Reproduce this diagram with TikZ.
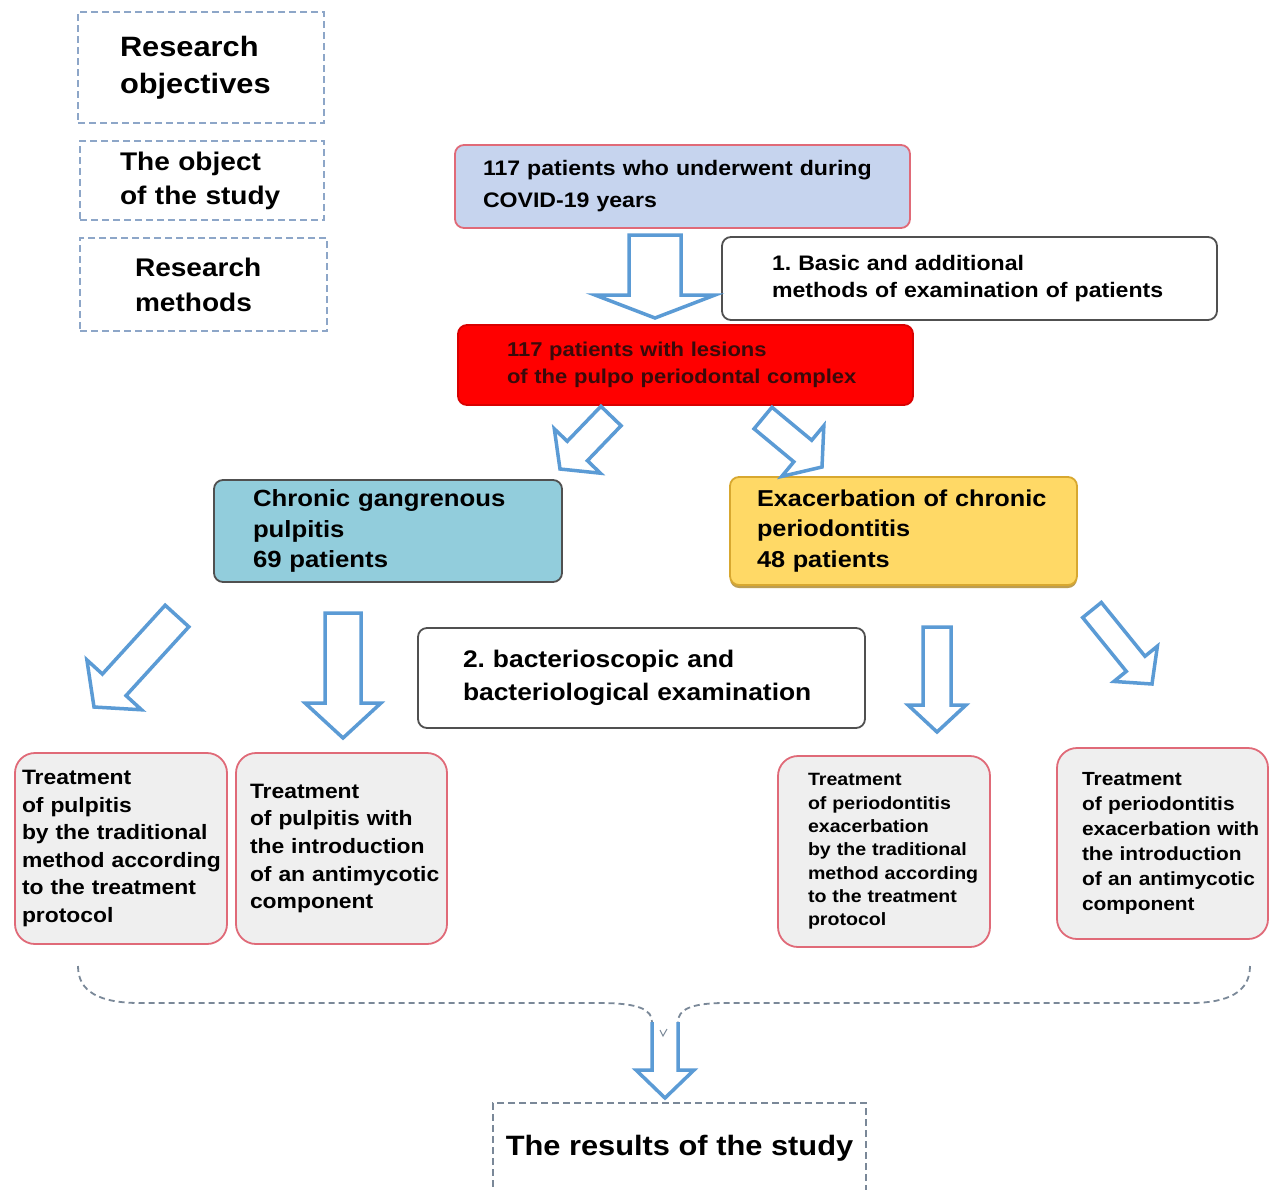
\documentclass[tikz,border=0pt]{standalone}
\usepackage{fontspec}
\setmainfont{Liberation Sans}[FakeStretch=1.1]
\usetikzlibrary{calc, shadows}

\definecolor{arrowblue}{HTML}{5B9BD5}
\definecolor{patblue}{HTML}{C6D4EE}
\definecolor{pinkred}{HTML}{E06A78}
\definecolor{aqua}{HTML}{92CDDC}
\definecolor{gold}{HTML}{FFD966}
\definecolor{goldedge}{HTML}{D8A830}
\definecolor{boxgray}{HTML}{EFEFEF}
\definecolor{edgegray}{HTML}{505050}
\definecolor{dashblue}{HTML}{8DA6C8}
\definecolor{dashgray}{HTML}{7A8898}
\definecolor{darkred}{HTML}{3A0A0A}

\newcommand{\boxfont}[2]{\fontsize{#1}{#2}\selectfont\bfseries\frenchspacing}

% hollow block arrow: tail, tip, shaft half width, head half width, head length
\newcommand{\hollowarrow}[5]{%
  \coordinate (ha-t) at (#1);
  \coordinate (ha-p) at (#2);
  \coordinate (ha-h) at ($(ha-p)!#5!(ha-t)$);
  \draw[blockarrow] ($(ha-t)!#3!90:(ha-p)$) -- ($(ha-h)!#3!-90:(ha-t)$)
    -- ($(ha-h)!#4!-90:(ha-t)$) -- (ha-p) -- ($(ha-h)!#4!90:(ha-t)$)
    -- ($(ha-h)!#3!90:(ha-t)$) -- ($(ha-t)!#3!-90:(ha-p)$) -- cycle;
}

\begin{document}
\begin{tikzpicture}[x=1pt, y=-1pt,
    box/.style={rounded corners=9pt, line width=1.8pt, align=left, inner ysep=0pt},
    dashbox/.style={draw=dashblue, dash pattern=on 7pt off 4pt, line width=1.8pt, align=left, inner ysep=0pt},
    treatbox/.style={box, draw=pinkred, fill=boxgray, rounded corners=20pt, minimum height=191pt},
    blockarrow/.style={draw=arrowblue, fill=white, line width=3.5pt, line join=miter},
    brace/.style={draw=dashgray, dash pattern=on 6pt off 4pt, line width=1.8pt}]

    \fill[white] (0,0) rectangle (1276,1189);
    \useasboundingbox (0,0) rectangle (1276,1189);

    % Legend on the left
    \node[dashbox, minimum height=111pt, inner xsep=42pt, text width=162pt, font=\boxfont{28}{37}] (aims) at (201,67.5) {Research\\objectives};
    \node[dashbox, minimum height=79pt, inner xsep=40pt, text width=164pt, font=\boxfont{25.5}{34}] (object) at (202,180.5) {The object\\of the study};
    \node[dashbox, minimum height=93pt, inner xsep=55pt, text width=137pt, font=\boxfont{25.5}{35}] (methods) at (203.5,284.5) {Research\\methods};

    % Patients
    \node[box, draw=pinkred, fill=patblue, minimum height=83pt, inner xsep=28pt, text width=399pt, font=\boxfont{21}{32}] (all) at (682.5,186.5) {117 patients who underwent during\\COVID-19 years};
    \node[box, draw=edgegray, fill=white, minimum height=83pt, inner xsep=50pt, text width=395pt, font=\boxfont{21}{27}] (exam1) at (969.5,278.5) {1. Basic and additional\\methods of examination of patients};
    \node[box, draw=red!85!black, fill=red, text=darkred, minimum height=80pt, inner xsep=49pt, text width=357pt, font=\boxfont{20}{27}] (lesions) at (685.5,365) {117 patients with lesions\\of the pulpo periodontal complex};

    % Diagnoses
    \node[box, draw=edgegray, fill=aqua, minimum height=102pt, inner xsep=39pt, text width=270pt, font=\boxfont{23.4}{30.5}] (pulp) at (388,531) {Chronic gangrenous\\pulpitis\\69 patients};
    \node[box, draw=goldedge, fill=gold, drop shadow={shadow xshift=0pt, shadow yshift=-3pt, fill=goldedge!80!black, opacity=0.8}, minimum height=108pt, inner xsep=27pt, text width=293pt, font=\boxfont{23}{30.5}] (perio) at (903.5,531) {Exacerbation of chronic\\periodontitis\\48 patients};
    \node[box, draw=edgegray, fill=white, minimum height=100pt, inner xsep=45pt, text width=357pt, font=\boxfont{24}{33}] (exam2) at (641.5,678) {2. bacterioscopic and\\bacteriological examination};

    % Treatment groups
    \node[treatbox, inner xsep=7pt, text width=198pt, font=\boxfont{20.8}{27.6}] (treat1) at (121,848.5) {Treatment\\of pulpitis\\by the traditional\\\mbox{method according}\\to the treatment\\protocol};
    \node[treatbox, inner xsep=14pt, text width=183pt, font=\boxfont{20.8}{27.6}] (treat2) at (341.5,848.5) {Treatment\\of pulpitis with\\the introduction\\\mbox{of an antimycotic}\\component};
    \node[treatbox, inner xsep=30pt, text width=152pt, font=\boxfont{17.8}{23.3}] (treat3) at (884,851.5) {Treatment\\of periodontitis\\exacerbation\\\mbox{by the traditional}\\\mbox{method according}\\to the treatment\\protocol};
    \node[treatbox, inner xsep=25pt, text width=161pt, font=\boxfont{19}{25}] (treat4) at (1162.5,843.5) {Treatment\\of periodontitis\\\mbox{exacerbation with}\\the introduction\\\mbox{of an antimycotic}\\component};

    % Result
    \node[dashbox, draw=dashgray, minimum width=373pt, minimum height=90pt, align=center, font=\boxfont{28}{34}] (results) at (679.5,1148) {The results of the study};

    % Block arrows
    \hollowarrow{655,235}{655,318}{26pt}{60pt}{23pt}
    \hollowarrow{611,416}{560,469}{14pt}{32pt}{25pt}
    \hollowarrow{763,418}{822,467}{14pt}{33pt}{25pt}
    \hollowarrow{177,616}{94,707}{16pt}{37pt}{30pt}
    \hollowarrow{343,613}{343,738}{18pt}{38pt}{35pt}
    \hollowarrow{937,627}{937,732}{14pt}{29pt}{27pt}
    \hollowarrow{1092,610}{1152,684}{12pt}{28pt}{26pt}

    % Brace over the treatments
    \coordinate (brace-l) at (78,966);
    \coordinate (brace-r) at (1250,966);
    \coordinate (brace-ml) at (652,1022);
    \coordinate (brace-mr) at (678,1022);
    \draw[brace] (brace-l) .. controls (78,992) and (100,1003) .. (140,1003) -- (600,1003)
        .. controls (640,1003) and (652,1010) .. (brace-ml);
    \draw[brace] (brace-r) .. controls (1250,992) and (1228,1003) .. (1190,1003) -- (725,1003)
        .. controls (690,1003) and (678,1010) .. (brace-mr);

    % Arrow to the result
    \draw[blockarrow] (brace-ml) -- (652,1070) -- (636,1070) -- (665,1098) -- (694,1070) -- (678,1070) -- (brace-mr);
    \draw[dashgray, line width=1pt] (660,1030) -- (663,1036) -- (667,1029);
\end{tikzpicture}
\end{document}
